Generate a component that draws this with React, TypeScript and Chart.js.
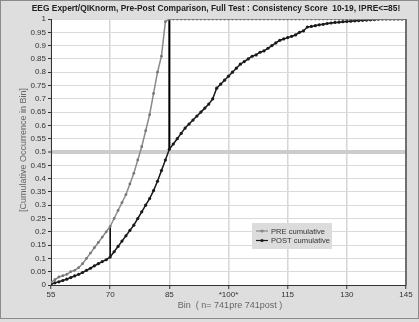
import React, { useEffect, useRef } from "react";
import { Chart, registerables } from "chart.js";

Chart.register(...registerables);

const TITLE = "EEG Expert/QIKnorm, Pre-Post Comparison, Full Test : Consistency Score  10-19, !PRE<=85!";
const Y_TITLE = "[Cumulative Occurrence in Bin]";
const X_TITLE = "Bin  ( n= 741pre 741post )";
const SERIES_NAMES = ["PRE cumulative", "POST cumulative"];

const BINS = [
  55, 56, 57, 58, 59, 60, 61, 62, 63, 64, 65, 66, 67, 68, 69, 70, 71, 72, 73, 74,
  75, 76, 77, 78, 79, 80, 81, 82, 83, 84, 85, 86, 87, 88, 89, 90, 91, 92, 93, 94,
  95, 96, 97, 98, 99, 100, 101, 102, 103, 104, 105, 106, 107, 108, 109, 110, 111, 112, 113, 114,
  115, 116, 117, 118, 119, 120, 121, 122, 123, 124, 125, 126, 127, 128, 129, 130, 131, 132, 133, 134,
  135, 136, 137, 138, 139, 140, 141, 142, 143, 144, 145,
];

const PRE = [
  0.01, 0.02, 0.03, 0.035, 0.04, 0.05, 0.055, 0.065, 0.08, 0.1, 0.12, 0.14, 0.16, 0.18, 0.2, 0.22, 0.25, 0.28, 0.31, 0.34,
  0.38, 0.42, 0.47, 0.52, 0.58, 0.64, 0.72, 0.8, 0.86, 0.99, 1, 1, 1, 1, 1, 1, 1, 1, 1, 1,
  1, 1, 1, 1, 1, 1, 1, 1, 1, 1, 1, 1, 1, 1, 1, 1, 1, 1, 1, 1,
  1, 1, 1, 1, 1, 1, 1, 1, 1, 1, 1, 1, 1, 1, 1, 1, 1, 1, 1, 1,
  1, 1, 1, 1, 1, 1, 1, 1, 1, 1, 1,
];

const POST = [
  0.003, 0.008, 0.012, 0.017, 0.022, 0.028, 0.034, 0.04, 0.047, 0.055, 0.063, 0.072, 0.08, 0.088, 0.095, 0.105, 0.125, 0.145, 0.165, 0.185,
  0.205, 0.225, 0.25, 0.275, 0.3, 0.325, 0.355, 0.39, 0.43, 0.47, 0.51, 0.53, 0.55, 0.57, 0.59, 0.605, 0.62, 0.635, 0.65, 0.665,
  0.68, 0.7, 0.74, 0.755, 0.77, 0.785, 0.8, 0.815, 0.83, 0.84, 0.85, 0.86, 0.865, 0.875, 0.88, 0.89, 0.9, 0.91, 0.92, 0.925,
  0.93, 0.935, 0.94, 0.95, 0.955, 0.97, 0.972, 0.975, 0.978, 0.98, 0.983, 0.985, 0.987, 0.988, 0.99, 0.991, 0.992, 0.993, 0.994, 0.995,
  0.996, 0.997, 0.998, 0.999, 1, 1, 1, 1, 1, 1, 1,
];

const MARK_BINS = [70, 85];
const X_TICKS = [55, 70, 85, 100, 115, 130, 145];

const FONT = "'Liberation Sans', Arial, sans-serif";
const BG = "#dedede";

export default function App() {
  const ref = useRef<HTMLCanvasElement | null>(null);

  useEffect(() => {
    document.body.style.margin = "0";
    const canvas = ref.current;
    if (!canvas) return;

    const pre = BINS.map((b, i) => ({ x: b, y: PRE[i] }));
    const post = BINS.map((b, i) => ({ x: b, y: POST[i] }));
    const markers = MARK_BINS.map((b) => {
      const i = BINS.indexOf(b);
      return [
        { x: b, y: PRE[i] },
        { x: b, y: POST[i] },
      ];
    });

    const decor = {
      id: "decor",
      beforeDraw(chart: any) {
        const { ctx, chartArea: a, width, height } = chart;
        ctx.save();
        ctx.fillStyle = BG;
        ctx.fillRect(0, 0, width, height);
        ctx.strokeStyle = "#8a8a8a";
        ctx.lineWidth = 1;
        ctx.strokeRect(0.5, 0.5, width - 1, height - 4);
        ctx.fillStyle = "#ffffff";
        ctx.fillRect(a.left, a.top, a.right - a.left, a.bottom - a.top);
        ctx.restore();
      },
      afterDraw(chart: any) {
        const { ctx, chartArea: a } = chart;
        ctx.save();
        // right border
        ctx.strokeStyle = "#6e6e6e";
        ctx.lineWidth = 2;
        ctx.beginPath();
        ctx.moveTo(a.right, a.top);
        ctx.lineTo(a.right, a.bottom);
        ctx.stroke();
        // title
        ctx.fillStyle = "#222";
        ctx.font = `bold 8.4px ${FONT}`;
        ctx.textAlign = "center";
        ctx.textBaseline = "middle";
        ctx.fillText(TITLE, 216, 9);
        // x title
        ctx.fillStyle = "#666";
        ctx.font = `9px ${FONT}`;
        ctx.fillText(X_TITLE, 230, 306);
        // y title
        ctx.save();
        ctx.translate(24, 150);
        ctx.rotate(-Math.PI / 2);
        ctx.fillText(Y_TITLE, 0, 0);
        ctx.restore();
        // legend
        const lx = 252, ly = 223, lw = 80, lh = 26;
        ctx.fillStyle = "#dcdcdc";
        ctx.fillRect(lx, ly, lw, lh);
        const cols = ["#8a8a8a", "#1a1a1a"];
        SERIES_NAMES.forEach((name, i) => {
          const yy = ly + 8 + i * 9.5;
          ctx.strokeStyle = cols[i];
          ctx.lineWidth = 1.2;
          ctx.beginPath();
          ctx.moveTo(lx + 4, yy);
          ctx.lineTo(lx + 16, yy);
          ctx.stroke();
          ctx.fillStyle = cols[i];
          ctx.beginPath();
          ctx.arc(lx + 10, yy, 1.6, 0, Math.PI * 2);
          ctx.fill();
          ctx.fillStyle = "#333";
          ctx.font = `7.6px ${FONT}`;
          ctx.textAlign = "left";
          ctx.fillText(name, lx + 19, yy + 0.5);
        });
        ctx.restore();
      },
    };

    const chart = new Chart(canvas, {
      type: "line",
      data: {
        datasets: [
          {
            label: SERIES_NAMES[0],
            data: pre,
            borderColor: "#8a8a8a",
            backgroundColor: "#777",
            borderWidth: 1.5,
            pointRadius: 1.4,
            pointBorderWidth: 0,
            tension: 0,
          },
          {
            label: SERIES_NAMES[1],
            data: post,
            borderColor: "#1a1a1a",
            backgroundColor: "#1a1a1a",
            borderWidth: 1.5,
            pointRadius: 1.6,
            pointBorderWidth: 0,
            tension: 0,
          },
          {
            label: "m70",
            data: markers[0],
            borderColor: "#000",
            borderWidth: 1.5,
            pointRadius: 0,
          },
          {
            label: "m85",
            data: markers[1],
            borderColor: "#000",
            borderWidth: 2,
            pointRadius: 0,
          },
        ],
      },
      options: {
        responsive: false,
        animation: false,
        layout: { padding: { top: 19, right: 13, left: 0, bottom: 0 } },
        plugins: {
          legend: { display: false },
          title: { display: false },
          tooltip: { enabled: false },
        },
        scales: {
          x: {
            type: "linear",
            min: 55,
            max: 145,
            afterFit(scale: any) {
              scale.height = 37;
            },
            afterBuildTicks(scale: any) {
              scale.ticks = X_TICKS.map((v) => ({ value: v }));
            },
            ticks: {
              color: "#333",
              font: { family: FONT, size: 8 },
              padding: 1,
              maxRotation: 0,
              autoSkip: false,
              callback: (v: any) => (Number(v) === 100 ? "*100*" : String(v)),
            },
            grid: {
              color: "#d6d6d6",
              lineWidth: 1.5,
              tickColor: "#333",
              tickWidth: 1,
              tickLength: 4,
            },
            border: { display: true, color: "#333", width: 1 },
          },
          y: {
            type: "linear",
            min: 0,
            max: 1,
            afterFit(scale: any) {
              scale.width = 51;
            },
            ticks: {
              stepSize: 0.05,
              color: "#333",
              font: { family: FONT, size: 8 },
              padding: 2,
              autoSkip: false,
              callback: (v: any) => String(Math.round(Number(v) * 100) / 100),
            },
            grid: {
              color: (c: any) => (c.tick && Math.abs(c.tick.value - 0.5) < 1e-6 ? "#cccccc" : "#dadada"),
              lineWidth: (c: any) => (c.tick && Math.abs(c.tick.value - 0.5) < 1e-6 ? 4 : 1),
              tickColor: "#333",
              tickWidth: 1,
              tickLength: 3,
            },
            border: { display: true, color: "#333", width: 1 },
          },
        },
      },
      plugins: [decor],
    });

    return () => chart.destroy();
  }, []);

  return (
    <div style={{ width: 419, height: 322 }}>
      <canvas ref={ref} width={419} height={322} style={{ display: "block" }} />
    </div>
  );
}
